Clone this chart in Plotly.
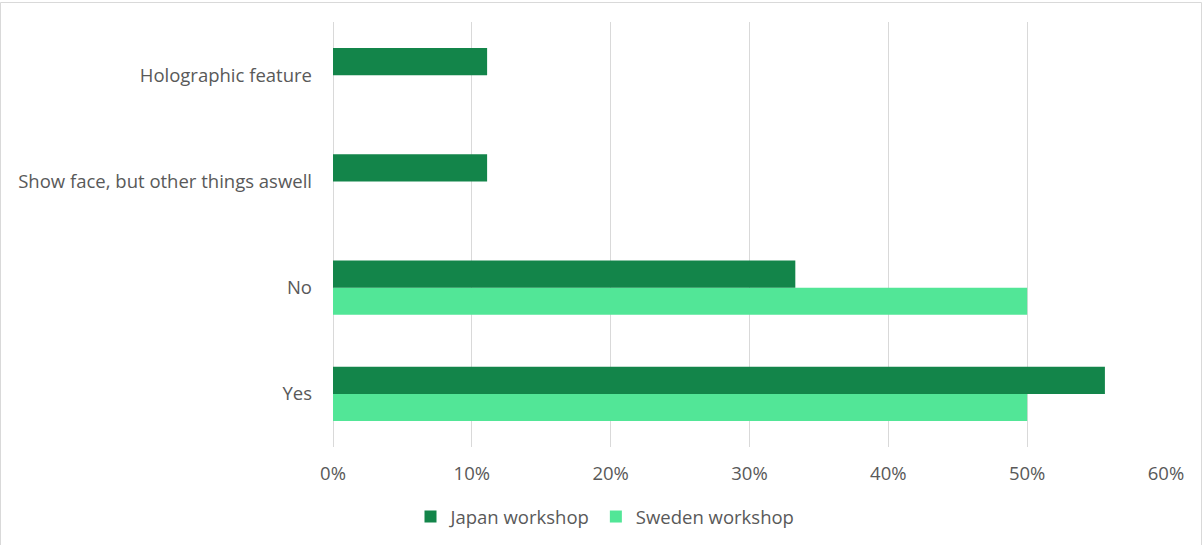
import plotly.graph_objects as go

categories = ["Yes", "No", "Show face, but other things aswell", "Holographic feature"]
japan = [0.556, 0.333, 0.111, 0.111]
sweden = [0.50, 0.50, 0.0, 0.0]
tick_vals = [0, 0.1, 0.2, 0.3, 0.4, 0.5, 0.6]
tick_text = ["0%", "10%", "20%", "30%", "40%", "50%", "60%"]

W, H = 1203, 545
L, R, T, B = 333, 37, 22, 98
pw, ph = W - L - R, H - T - B

fig = go.Figure()
fig.add_trace(go.Bar(y=categories, x=sweden, orientation="h", name="Sweden workshop",
                     marker=dict(color="#52E697", line=dict(width=0)), legendrank=2))
fig.add_trace(go.Bar(y=categories, x=japan, orientation="h", name="Japan workshop",
                     marker=dict(color="#13854A", line=dict(width=0)), legendrank=1))

font_family = "Open Sans"
fs = 18.5
fig.update_layout(
    width=W, height=H,
    margin=dict(l=L, r=R, t=T, b=B, pad=0, autoexpand=False),
    paper_bgcolor="white", plot_bgcolor="white",
    barmode="group", bargap=0.49, bargroupgap=0,
    font=dict(family=font_family, size=fs, color="#595959"),
    xaxis=dict(range=[0, 0.6], tickvals=tick_vals, ticktext=tick_text,
               showgrid=True, gridcolor="#D9D9D9", gridwidth=1,
               zeroline=True, zerolinecolor="#D9D9D9", zerolinewidth=1,
               showline=False, ticks="", ticklabelstandoff=13, automargin=False,
               tickfont=dict(size=fs, color="#595959")),
    yaxis=dict(showgrid=False, zeroline=False, showline=False, ticks="",
               ticklabelstandoff=20, automargin=False,
               tickfont=dict(size=fs, color="#595959")),
    legend=dict(orientation="h", x=(605 - L) / pw, xanchor="center",
                y=-(517 - (T + ph)) / ph, yanchor="middle",
                font=dict(size=fs, color="#595959"), itemwidth=30,
                traceorder="normal"),
    showlegend=True,
    shapes=[dict(type="rect", xref="paper", yref="paper",
                 x0=-(L - 0.5) / pw, x1=(pw + R - 1.5) / pw,
                 y0=-(B + 5) / ph, y1=(ph + T - 2.5) / ph,
                 line=dict(color="#D9D9D9", width=1), fillcolor="rgba(0,0,0,0)",
                 layer="below")],
)
fig.write_html("out.html", config={"displayModeBar": False},
               post_script="document.body.style.margin='0';document.body.style.padding='0';")
